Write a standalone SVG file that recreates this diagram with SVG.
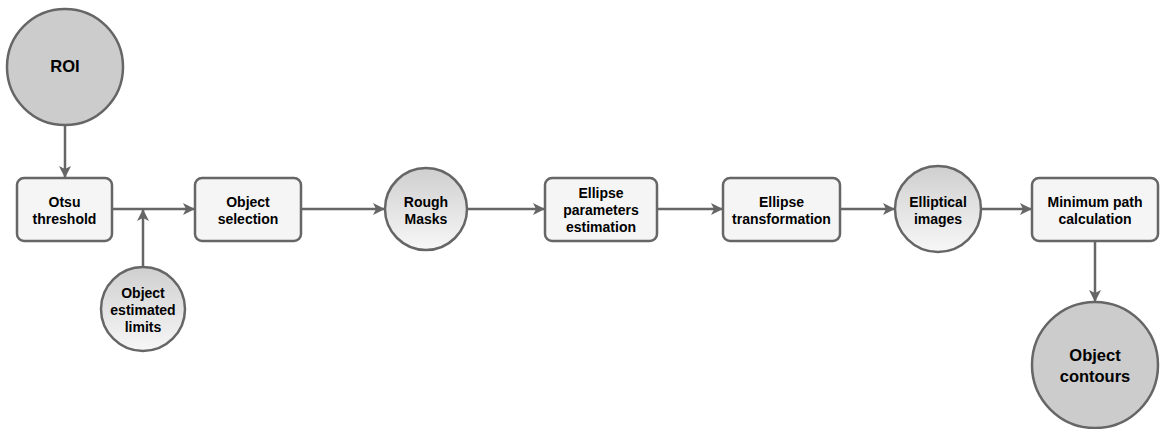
<svg xmlns="http://www.w3.org/2000/svg" width="1161" height="429" viewBox="0 0 1161 429">
<style>
.box{fill:#f5f5f5;stroke:#666666;stroke-width:2.5}
.dark{fill:#cccccc;stroke:#666666;stroke-width:2.5}
.grad{fill:url(#g);stroke:#666666;stroke-width:2.5}
.t{font-family:"Liberation Sans",Arial,Helvetica,sans-serif;font-weight:bold;font-size:14px;fill:#000;text-anchor:middle}
.big{font-size:16.5px}
.big2{font-size:16.5px}
.c{fill:none;stroke:#666666;stroke-width:2.5}
</style>
<defs>
<linearGradient id="g" x1="0" y1="0" x2="0" y2="1">
<stop offset="0" stop-color="#cfcfcf"/>
<stop offset="1" stop-color="#f7f7f7"/>
</linearGradient>
<marker id="a" viewBox="0 0 12 12" refX="11" refY="6" markerWidth="12" markerHeight="12" markerUnits="userSpaceOnUse" orient="auto">
<path d="M0,0 L12,6 L0,12 L3,6 z" fill="#666666"/>
</marker>
</defs>
<g id="connectors">
<line class="c" x1="65" y1="126" x2="65" y2="177" marker-end="url(#a)"/>
<line class="c" x1="112" y1="209" x2="194" y2="209" marker-end="url(#a)"/>
<line class="c" x1="143" y1="267" x2="143" y2="210" marker-end="url(#a)"/>
<line class="c" x1="301" y1="209" x2="384" y2="209" marker-end="url(#a)"/>
<line class="c" x1="467" y1="209" x2="544" y2="209" marker-end="url(#a)"/>
<line class="c" x1="657" y1="209" x2="722" y2="209" marker-end="url(#a)"/>
<line class="c" x1="840" y1="209" x2="894" y2="209" marker-end="url(#a)"/>
<line class="c" x1="982" y1="209" x2="1031" y2="209" marker-end="url(#a)"/>
<line class="c" x1="1095" y1="241" x2="1095" y2="301" marker-end="url(#a)"/>
</g>
<g id="roi">
<circle class="dark" cx="65" cy="67" r="58"/>
<text class="t big" x="65" y="72">ROI</text>
</g>
<g id="otsu">
<rect class="box" x="17" y="178" width="95" height="63" rx="7"/>
<text class="t" x="64.5" y="207">Otsu</text>
<text class="t" x="64.5" y="224">threshold</text>
</g>
<g id="limits">
<circle class="grad" cx="143" cy="309" r="42"/>
<text class="t" x="143" y="298">Object</text>
<text class="t" x="143" y="315">estimated</text>
<text class="t" x="143" y="332">limits</text>
</g>
<g id="selection">
<rect class="box" x="195" y="178" width="106" height="63" rx="7"/>
<text class="t" x="248" y="207">Object</text>
<text class="t" x="248" y="224">selection</text>
</g>
<g id="rough">
<circle class="grad" cx="426" cy="209" r="41"/>
<text class="t" x="426" y="207">Rough</text>
<text class="t" x="426" y="224">Masks</text>
</g>
<g id="params">
<rect class="box" x="545" y="178" width="112" height="63" rx="7"/>
<text class="t" x="601" y="198">Ellipse</text>
<text class="t" x="601" y="215">parameters</text>
<text class="t" x="601" y="232">estimation</text>
</g>
<g id="transform">
<rect class="box" x="723" y="178" width="117" height="63" rx="7"/>
<text class="t" x="781.5" y="207">Ellipse</text>
<text class="t" x="781.5" y="224">transformation</text>
</g>
<g id="elliptical">
<circle class="grad" cx="938" cy="209" r="43"/>
<text class="t" x="938" y="207">Elliptical</text>
<text class="t" x="938" y="224">images</text>
</g>
<g id="minpath">
<rect class="box" x="1032" y="178" width="126" height="63" rx="7"/>
<text class="t" x="1095" y="207">Minimum path</text>
<text class="t" x="1095" y="224">calculation</text>
</g>
<g id="contours">
<circle class="dark" cx="1095" cy="365" r="63"/>
<text class="t big2" x="1095" y="361">Object</text>
<text class="t big2" x="1095" y="382">contours</text>
</g>
</svg>
